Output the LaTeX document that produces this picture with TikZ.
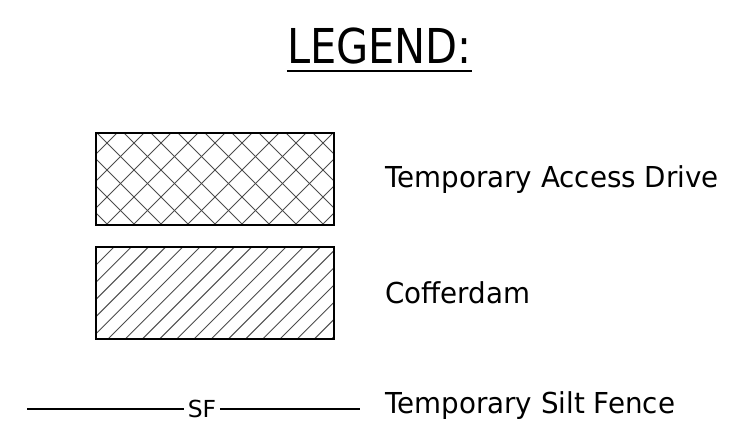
\documentclass[tikz,border=0pt]{standalone}
\usepackage{fontspec}
\setmainfont{DejaVu Sans}
\usetikzlibrary{positioning}
\newcommand{\narrowtext}[2]{\scalebox{#1}[1]{#2}}

\begin{document}
\begin{tikzpicture}[x=0.03cm, y=-0.03cm]
            \tikzstyle{legendbox} = [draw=black, line width=1.7pt, inner sep=0, minimum width=238*0.03cm, minimum height=92*0.03cm, anchor=north west]
            \tikzstyle{hatch} = [draw=black!70, line width=0.8pt]
            \tikzstyle{label} = [inner sep=0, anchor=base west, font=\fontsize{24.6}{28}\selectfont]
            \useasboundingbox (0, 0) rectangle (751, 445);
            \node[inner sep=0, anchor=base, font=\fontsize{41}{48}\selectfont] (title) at (379.5, 63) {\narrowtext{0.865}{LEGEND:}};
            \draw[line width=1.7pt] ([yshift=-6.8pt]title.base west) -- ([yshift=-6.8pt]title.base east);
            % access drive, cross hatch
            \node[legendbox] (drive) at (95, 132) {};
            \begin{scope}
                \clip (drive.north west) rectangle (drive.south east);
                \foreach \c in {-20, ..., 20} {
                    \draw[hatch] (331+27*\c, 0) -- ++(-400, 400);
                    \draw[hatch] (-117+27*\c, 0) -- ++(400, 400);
                }
            \end{scope}
            \node[legendbox] at (95, 132) {};
            \node[label] (drivetext) at (385, 187) {\narrowtext{0.962}{Temporary Access Drive}};
            % cofferdam, single hatch
            \node[legendbox] (dam) at (95, 246) {};
            \begin{scope}
                \clip (dam.north west) rectangle (dam.south east);
                \foreach \c in {-30, ..., 30} {
                    \draw[hatch] (361+17.2*\c, 0) -- ++(-500, 500);
                }
            \end{scope}
            \node[legendbox] at (95, 246) {};
            \node[label] (damtext) at (385, 303) {\narrowtext{0.962}{Cofferdam}};
            % silt fence
            \coordinate (sfleft) at (27, 409);
            \coordinate (sfright) at (360, 409);
            \node[inner xsep=3pt, inner ysep=0, font=\fontsize{20}{24}\selectfont] (sf) at (202, 409) {SF};
            \draw[line width=1.3pt] (sfleft) -- (sf.west);
            \draw[line width=1.3pt] (sf.east) -- (sfright);
            \node[label] (sftext) at (385, 413) {\narrowtext{0.962}{Temporary Silt Fence}};
        \end{tikzpicture}
\end{document}
